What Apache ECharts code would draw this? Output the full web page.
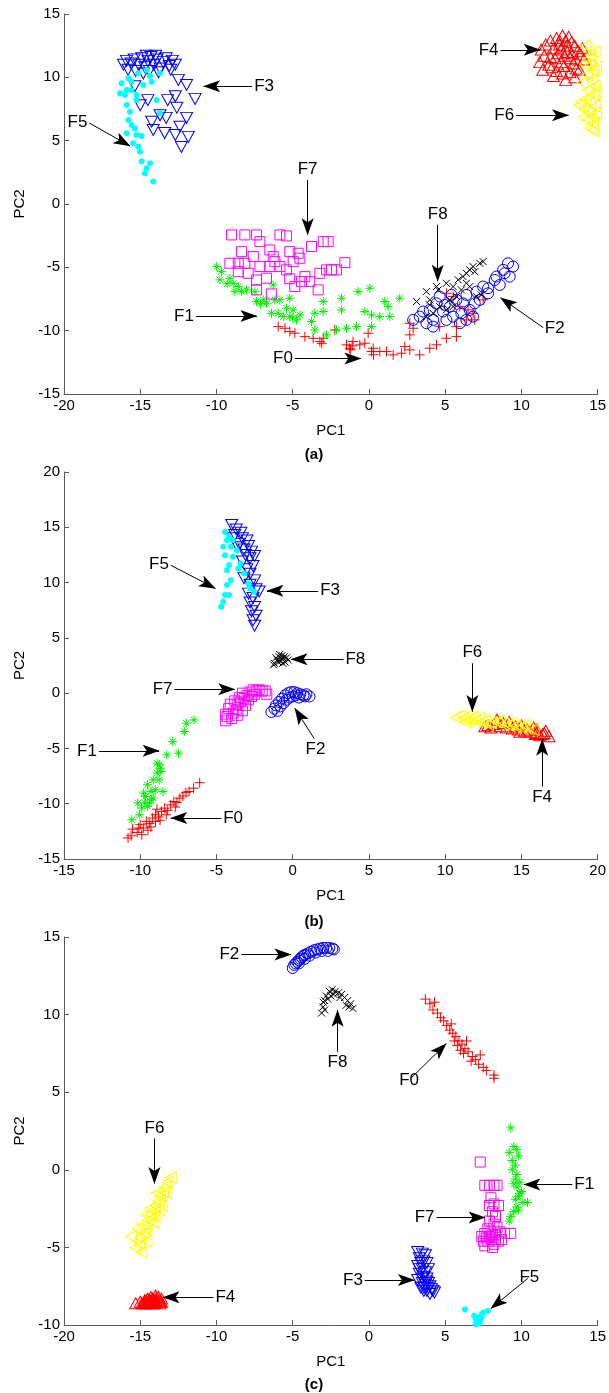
<!DOCTYPE html>
<html>
<head>
<meta charset="utf-8">
<script src="https://cdn.jsdelivr.net/npm/echarts@6/dist/echarts.min.js"></script>
<style>
html, body { margin: 0; padding: 0; background: #fff; }
#main { width: 609px; height: 1393px; }
</style>
</head>
<body>
<div id="main"></div>
<script>
// ---------- data: panel (a) ----------
const a_F0 = [[-5.95,-9.68],[-5.51,-9.81],[-5.19,-10.07],[-4.86,-10.2],[-4.2,-10.47],[-3.66,-10.6],[-3.22,-10.86],[-3.0,-10.6],[-2.24,-9.94],[-1.47,-11.12],[-1.04,-10.86],[-1.26,-11.39],[-0.6,-11.12],[-0.27,-10.99],[-0.05,-10.2],[0.17,-11.65],[0.71,-11.65],[1.15,-11.65],[1.59,-11.91],[2.13,-11.78],[2.35,-11.26],[2.68,-11.52],[2.68,-10.33],[2.9,-9.81],[3.33,-11.91],[3.99,-11.39],[4.43,-11.12],[5.08,-10.6],[5.74,-10.47],[6.39,-9.15],[6.94,-9.15],[7.49,-7.57],[6.5,-8.36],[5.52,-7.31],[5.96,-8.1],[5.08,-7.05],[4.64,-9.68],[2.68,-9.41],[5.74,-9.68],[6.83,-8.63],[0.28,-11.39],[-1.2,-11.5],[-1.1,-11.2],[-3.1,-11.0],[0.3,-11.9]];
const a_F1 = [[-9.99,-4.94],[-9.67,-5.34],[-9.78,-5.99],[-9.12,-5.86],[-8.9,-6.26],[-8.57,-6.52],[-8.79,-6.92],[-8.35,-6.92],[-8.03,-6.78],[-7.37,-7.7],[-6.94,-7.57],[-6.28,-6.39],[-6.17,-7.57],[-5.84,-7.57],[-5.19,-7.44],[-5.95,-8.63],[-5.62,-8.89],[-5.19,-8.89],[-4.75,-9.15],[-4.53,-8.76],[-3.77,-9.28],[-3.55,-9.94],[-2.78,-10.33],[-2.13,-9.94],[-1.47,-9.81],[-0.82,-9.68],[-0.71,-6.92],[0.06,-6.65],[-1.8,-7.44],[-3.0,-7.7],[-3.0,-8.49],[-3.55,-8.63],[-1.8,-8.36],[-0.27,-8.49],[0.17,-8.76],[0.71,-8.89],[1.04,-7.7],[1.26,-8.1],[2.02,-7.44],[1.37,-8.89],[0.17,-9.68],[-7.48,-6.92],[-6.72,-7.84],[-5.41,-8.23],[-4.97,-8.36],[-6.39,-8.63],[-9.3,-6.3],[-7.1,-7.9],[-5.0,-9.0]];
const a_F2 = [[2.9,-9.15],[3.33,-8.89],[3.77,-9.41],[4.21,-9.15],[3.99,-8.36],[4.43,-7.84],[4.86,-8.49],[5.08,-9.15],[5.3,-8.1],[5.74,-7.57],[5.52,-8.89],[6.06,-8.63],[6.17,-7.84],[6.39,-7.18],[6.61,-8.36],[6.94,-7.84],[7.05,-6.92],[7.27,-7.57],[7.49,-6.52],[7.81,-6.65],[8.25,-6.0],[8.58,-6.39],[8.9,-5.47],[9.23,-5.73],[9.45,-4.94],[9.12,-4.68],[8.8,-5.2],[8.36,-5.73],[7.81,-7.05],[6.83,-8.89],[5.96,-9.41],[4.21,-9.68],[3.55,-8.49],[4.64,-7.31],[5.41,-7.18],[6.39,-9.15],[4.97,-7.97]];
const a_F3 = [[-16.1,11.0],[-15.8,10.6],[-15.6,11.1],[-15.3,10.5],[-15.1,11.0],[-14.9,11.5],[-14.7,10.8],[-14.5,11.3],[-14.3,11.6],[-14.1,11.0],[-13.9,11.4],[-13.7,10.7],[-13.5,11.2],[-13.3,11.5],[-13.1,10.9],[-12.9,11.3],[-12.7,11.0],[-14.4,10.5],[-13.8,10.4],[-15.4,11.4],[-14.0,11.7],[-14.6,11.7],[-13.0,10.6],[-15.9,11.3],[-14.8,10.3],[-12.5,9.8],[-11.96,9.4],[-11.4,8.3],[-12.7,8.5],[-13.2,8.2],[-12.6,7.6],[-15.0,7.8],[-14.5,8.2],[-15.35,9.3],[-13.7,7.0],[-14.25,6.5],[-13.3,6.8],[-11.96,6.8],[-14.15,5.85],[-13.4,5.6],[-12.7,5.45],[-11.85,5.3],[-12.3,4.5],[-12.4,6.1]];
const a_F4 = [[11.3,12.2],[11.5,11.7],[11.2,11.2],[11.6,12.6],[11.9,12.9],[12.1,12.3],[12.3,13.1],[12.5,12.6],[12.7,13.3],[12.9,12.9],[13.1,13.2],[13.3,12.8],[13.5,12.5],[13.7,12.1],[13.9,11.8],[14.1,11.4],[12.2,11.5],[12.4,11.9],[12.6,11.2],[12.8,11.7],[13.0,12.0],[13.2,11.5],[13.4,11.1],[13.6,10.7],[12.0,10.8],[12.3,10.5],[12.7,10.3],[12.9,9.8],[13.2,10.4],[13.5,10.0],[11.8,11.0],[12.5,12.9],[13.0,12.5],[13.8,10.6],[11.4,10.6],[12.1,10.1],[14.0,12.3],[12.6,12.2],[13.3,11.9],[11.9,11.6],[12.8,10.9],[13.6,11.4]];
const a_F5 = [[-16.33,8.74],[-16.0,8.6],[-16.22,9.53],[-15.78,9.92],[-15.57,9.66],[-15.13,10.32],[-14.58,10.58],[-13.71,10.32],[-14.25,9.66],[-13.93,8.21],[-13.71,7.16],[-15.24,8.6],[-15.57,9.0],[-15.89,7.82],[-15.67,7.29],[-15.78,6.63],[-15.57,6.24],[-15.35,5.97],[-15.89,5.58],[-15.24,5.45],[-14.91,5.37],[-15.46,4.79],[-15.13,4.53],[-15.02,4.13],[-14.91,3.35],[-14.36,3.21],[-14.58,2.82],[-14.69,2.42],[-14.15,1.77],[-15.89,9.0],[-15.24,8.21],[-14.8,9.4],[-14.36,10.1]];
const a_F6 = [[14.2,12.5],[14.4,12.1],[14.6,11.6],[14.5,11.0],[14.7,10.5],[14.3,10.2],[14.6,9.8],[14.8,9.3],[14.4,9.0],[14.7,8.6],[14.2,8.3],[14.5,8.0],[14.8,7.7],[13.9,8.1],[14.1,7.5],[14.4,7.2],[14.6,6.9],[14.3,6.6],[14.7,6.3],[14.5,6.0],[14.7,5.8],[14.0,9.6],[14.9,10.8],[14.9,8.9],[13.8,7.8],[14.2,11.0],[14.8,12.0],[14.4,11.4],[14.1,6.9],[14.9,7.2]];
const a_F7 = [[-9.01,-2.44],[-8.14,-2.44],[-7.37,-2.44],[-7.15,-2.97],[-5.84,-2.44],[-5.41,-2.52],[-3.77,-3.36],[-3.0,-2.97],[-2.68,-2.97],[-8.35,-3.76],[-7.59,-4.15],[-6.5,-3.63],[-6.28,-4.15],[-5.19,-3.76],[-4.64,-3.89],[-4.53,-4.28],[-8.57,-4.68],[-8.14,-4.68],[-7.15,-4.94],[-6.5,-4.94],[-6.17,-4.55],[-5.84,-4.94],[-5.41,-5.2],[-4.97,-4.55],[-4.2,-5.73],[-4.42,-6.13],[-3.22,-5.47],[-2.78,-5.2],[-2.46,-5.2],[-2.13,-5.2],[-1.58,-4.63],[-3.33,-6.78],[-7.37,-6.0],[-6.72,-5.86],[-4.86,-6.52],[-3.88,-6.13],[-8.57,-5.34],[-7.92,-5.47],[-7.37,-6.78],[-9.12,-4.68],[-6.4,-7.1],[-5.2,-5.9]];
const a_F8 = [[3.12,-7.7],[3.77,-6.92],[3.99,-7.57],[4.43,-6.52],[4.54,-6.78],[5.08,-6.26],[5.52,-6.52],[5.85,-5.99],[6.17,-5.73],[6.39,-5.47],[6.61,-5.2],[6.83,-4.94],[6.94,-5.34],[7.27,-4.68],[7.49,-4.55],[6.39,-6.26],[6.06,-6.78],[5.74,-7.31],[5.3,-7.57],[4.64,-8.1],[4.21,-8.63],[3.77,-8.89],[5.08,-8.36],[5.52,-8.1],[6.61,-6.52],[7.05,-7.31],[3.99,-7.97],[7.38,-7.18]];
// label, tail x, tail y, tip x, tip y
const a_notes = [['F3',-7.66,9.29,-10.84,9.29],['F5',-18.35,6.4,-15.67,4.57],['F7',-4.02,1.9,-4.02,-2.42],['F8',4.51,-1.64,4.51,-6.09],['F4',8.63,12.17,11.23,12.17],['F6',9.65,7.01,13.09,7.01],['F1',-11.35,-8.84,-7.35,-8.84],['F0',-4.86,-12.2,-0.53,-12.2],['F2',11.43,-9.76,8.63,-7.4]];

// ---------- data: panel (b) ----------
const b_F0 = [[-10.8,-13.1],[-10.5,-12.3],[-10.2,-12.6],[-10.0,-11.9],[-9.8,-12.2],[-9.6,-11.6],[-9.4,-11.8],[-9.2,-11.3],[-9.0,-11.0],[-8.8,-11.2],[-8.6,-10.7],[-8.4,-10.4],[-8.2,-10.6],[-8.0,-10.1],[-7.8,-9.8],[-7.6,-9.9],[-7.4,-9.5],[-7.2,-9.3],[-7.0,-9.0],[-6.8,-8.9],[-6.5,-8.6],[-6.1,-8.1],[-9.9,-12.8],[-9.3,-12.1],[-8.7,-11.5],[-10.6,-12.9],[-8.9,-10.5],[-7.7,-10.3],[-10.1,-12.2],[-9.5,-12.4],[-9.0,-11.6],[-8.3,-11.0]];
const b_F1 = [[-6.47,-2.42],[-6.98,-2.72],[-7.11,-3.47],[-7.87,-4.38],[-7.49,-5.43],[-8.26,-5.58],[-8.76,-6.48],[-8.89,-7.23],[-9.15,-7.84],[-9.53,-8.29],[-8.51,-8.89],[-9.78,-9.04],[-9.15,-9.49],[-10.16,-9.94],[-9.53,-10.24],[-10.04,-11.0],[-10.55,-11.45],[-9.27,-9.64],[-8.76,-7.84],[-9.02,-8.74],[-9.66,-9.34],[-9.91,-10.39],[-9.4,-9.94],[-8.64,-7.08],[-8.89,-6.33],[-9.3,-8.9],[-9.7,-9.9],[-8.7,-6.8]];
const b_F2 = [[-1.4,-1.7],[-1.2,-1.4],[-1.1,-1.1],[-0.9,-0.8],[-0.7,-0.5],[-0.5,-0.2],[-0.3,0.0],[-0.1,0.1],[0.1,0.1],[0.3,0.0],[0.5,-0.1],[0.7,-0.2],[0.9,-0.1],[1.1,-0.3],[-0.4,-0.6],[-0.8,-1.2],[0.0,-0.3],[0.4,-0.4],[-1.0,-1.6],[-0.6,-0.9],[0.2,-0.2],[0.8,-0.3],[-0.2,-0.4]];
const b_F3 = [[-4.0,15.2],[-3.7,14.8],[-3.4,14.5],[-3.8,14.3],[-3.3,14.0],[-3.0,13.8],[-3.5,13.5],[-2.9,13.3],[-3.2,13.0],[-2.7,12.8],[-3.1,12.5],[-2.8,12.2],[-3.3,11.9],[-2.6,11.5],[-3.0,11.2],[-2.8,10.8],[-3.2,10.4],[-2.5,10.2],[-2.8,9.8],[-2.4,9.4],[-2.9,9.0],[-2.6,8.6],[-2.8,8.2],[-2.5,7.8],[-2.7,7.4],[-2.4,7.0],[-2.6,6.6],[-2.5,6.1],[-3.6,13.2],[-3.9,14.0],[-2.5,12.4],[-2.2,9.2]];
const b_F4 = [[12.8,-2.9],[13.2,-2.8],[13.6,-3.0],[14.0,-3.1],[14.4,-3.2],[14.8,-3.3],[15.2,-3.4],[15.6,-3.5],[16.0,-3.6],[16.4,-3.7],[16.8,-3.9],[13.4,-2.4],[14.2,-2.6],[15.0,-2.9],[15.8,-3.1],[16.6,-3.4],[13.0,-3.1],[14.6,-3.0],[15.4,-3.3],[16.2,-3.8],[12.6,-3.0],[13.8,-2.7],[15.9,-3.7],[16.5,-3.6],[14.9,-3.5],[16.0,-3.3]];
const b_F5 = [[-4.44,14.58],[-4.31,13.83],[-4.06,13.23],[-4.44,12.48],[-3.93,12.33],[-4.18,11.57],[-4.31,11.12],[-3.55,11.27],[-3.17,10.82],[-4.06,10.22],[-4.31,9.77],[-4.44,8.87],[-4.18,8.87],[-4.56,8.26],[-4.69,7.81],[-2.91,9.92],[-2.53,9.17],[-2.78,9.47],[-3.67,12.93],[-3.93,13.83],[-3.42,11.72],[-4.56,13.23],[-4.18,14.13]];
const b_F6 = [[10.7,-2.2],[11.0,-2.0],[11.2,-2.3],[11.4,-2.1],[11.6,-2.4],[11.8,-2.2],[12.0,-2.5],[12.2,-2.3],[12.4,-2.6],[12.6,-2.5],[13.0,-2.7],[13.4,-2.6],[13.8,-2.8],[14.2,-2.9],[14.6,-3.0],[15.0,-3.1],[15.4,-3.2],[15.8,-3.3],[13.6,-2.5],[14.4,-2.7],[12.8,-2.8],[11.3,-2.6],[15.2,-2.9]];
const b_F7 = [[-4.4,-2.5],[-4.3,-2.1],[-4.0,-2.3],[-3.9,-1.8],[-4.2,-1.4],[-3.7,-1.5],[-3.6,-1.0],[-3.4,-0.8],[-3.5,-0.4],[-3.2,-0.5],[-3.0,-0.2],[-3.3,0.0],[-2.8,0.1],[-2.6,0.3],[-2.4,0.2],[-2.2,0.3],[-2.0,0.2],[-1.8,0.2],[-2.9,-0.6],[-3.1,-1.1],[-3.8,-0.7],[-2.5,-0.1],[-4.1,-1.0],[-3.3,-1.6],[-1.7,-0.1],[-2.7,-0.3],[-3.6,-2.0],[-4.4,-1.9]];
const b_F8 = [[-1.2,2.7],[-1.0,3.0],[-0.9,3.3],[-0.8,2.9],[-0.7,3.4],[-0.6,3.1],[-0.5,2.8],[-0.4,3.2],[-0.3,3.0],[-1.1,3.2],[-0.85,3.5],[-0.65,2.7],[-0.95,2.8],[-0.55,3.3],[-0.75,3.15],[-1.25,2.55]];
const b_notes = [['F5',-8.0,11.57,-5.07,9.47],['F3',1.67,9.26,-1.69,9.26],['F8',3.33,3.06,-0.11,3.06],['F7',-7.75,0.35,-3.8,0.35],['F2',1.42,-4.13,0.14,-1.37],['F6',11.78,2.7,11.78,-1.67],['F4',16.36,-8.44,16.36,-4.17],['F1',-12.71,-5.22,-8.76,-5.22],['F0',-4.69,-11.3,-8.0,-11.3]];

// ---------- data: panel (c) ----------
const c_F0 = [[3.7,11.0],[4.0,10.7],[4.2,10.3],[4.5,10.1],[4.7,9.8],[4.9,9.6],[5.1,9.3],[5.3,9.0],[5.5,8.8],[5.7,8.6],[5.9,8.3],[6.1,8.1],[6.3,7.8],[6.5,7.6],[6.8,7.3],[7.0,7.1],[7.2,6.8],[7.5,6.6],[7.7,6.4],[8.2,6.1],[8.2,5.9],[5.4,9.4],[6.0,7.7],[6.4,8.3],[6.7,7.0],[7.3,7.4],[4.3,10.8],[5.8,8.0],[6.2,7.5],[5.6,8.3]];
const c_F1 = [[9.3,2.7],[9.5,1.5],[9.7,1.3],[9.2,1.1],[9.8,0.9],[9.4,0.6],[9.6,0.3],[9.4,0.0],[9.7,-0.3],[9.6,-0.6],[9.9,-0.8],[9.7,-1.1],[10.0,-1.4],[9.8,-1.7],[9.6,-1.9],[10.1,-2.1],[10.4,-2.1],[9.7,-2.4],[9.5,-2.7],[9.3,-3.0],[9.2,-3.3],[9.9,-1.5],[9.5,-0.9],[9.8,-2.6]];
const c_F2 = [[-5.0,13.0],[-4.9,13.2],[-4.8,13.3],[-4.7,13.4],[-4.6,13.5],[-4.5,13.6],[-4.4,13.7],[-4.3,13.8],[-4.2,13.85],[-4.0,13.95],[-3.8,14.05],[-3.6,14.15],[-3.4,14.2],[-3.2,14.25],[-3.0,14.3],[-2.8,14.3],[-2.6,14.3],[-2.4,14.25],[-2.3,14.2],[-4.6,13.3],[-4.2,13.6],[-3.9,13.8],[-3.5,14.0],[-3.1,14.1],[-2.7,14.1]];
const c_F3 = [[3.2,-5.3],[3.5,-5.4],[3.7,-5.5],[3.3,-5.7],[3.6,-5.9],[3.8,-6.0],[3.2,-6.2],[3.5,-6.4],[3.9,-6.4],[3.3,-6.7],[3.6,-6.9],[3.8,-7.0],[3.2,-7.1],[3.5,-7.3],[3.7,-7.4],[3.9,-7.6],[4.1,-7.7],[4.3,-7.9],[4.0,-8.0],[3.6,-7.8],[3.4,-6.0],[3.7,-6.6],[3.4,-7.6],[3.8,-7.2],[4.2,-7.8],[3.5,-7.0],[3.9,-7.3],[3.6,-7.6],[3.8,-7.8],[4.0,-7.5],[3.3,-6.4]];
const c_F4 = [[-15.3,-8.6],[-15.0,-8.5],[-14.8,-8.6],[-14.6,-8.4],[-14.4,-8.5],[-14.2,-8.3],[-14.0,-8.4],[-13.8,-8.2],[-13.6,-8.5],[-14.5,-8.6],[-14.1,-8.6],[-13.7,-8.6],[-14.3,-8.2],[-13.9,-8.5],[-14.7,-8.5],[-14.9,-8.6],[-13.6,-8.3],[-14.0,-8.1],[-14.6,-8.6],[-14.4,-8.35],[-14.2,-8.55],[-14.0,-8.55],[-13.8,-8.4],[-14.3,-8.45],[-14.1,-8.3],[-14.5,-8.3],[-13.9,-8.25],[-14.7,-8.4],[-14.2,-8.6],[-13.7,-8.45]];
const c_F5 = [[6.3,-9.0],[6.9,-9.4],[7.0,-9.6],[7.1,-9.8],[7.2,-9.9],[7.3,-9.5],[7.4,-9.3],[7.5,-9.2],[7.8,-9.1],[7.2,-9.7],[7.0,-9.95],[7.3,-9.7],[7.1,-9.5],[7.25,-9.85],[7.4,-9.5]];
const c_F6 = [[-13.0,-0.5],[-13.2,-0.8],[-13.4,-1.1],[-13.5,-1.4],[-13.7,-1.7],[-13.8,-2.0],[-14.0,-2.3],[-14.1,-2.6],[-14.3,-2.9],[-14.4,-3.2],[-14.5,-3.5],[-14.7,-3.8],[-14.8,-4.1],[-15.0,-4.4],[-15.1,-4.7],[-15.3,-5.0],[-15.6,-4.3],[-14.9,-5.3],[-14.2,-3.4],[-13.6,-2.3],[-14.6,-2.9],[-13.9,-1.5],[-15.2,-3.8],[-14.0,-3.0],[-14.6,-4.6],[-13.3,-1.5],[-14.9,-3.5],[-14.4,-2.5],[-15.0,-4.9],[-13.8,-2.6]];
const c_F7 = [[7.3,0.5],[7.6,-1.0],[7.9,-1.0],[8.2,-1.0],[8.4,-1.0],[8.0,-1.8],[7.9,-2.3],[8.2,-2.2],[8.5,-2.3],[8.1,-2.7],[8.3,-3.0],[7.9,-3.3],[8.2,-3.5],[7.8,-3.8],[8.4,-3.7],[7.4,-4.3],[7.6,-4.1],[8.0,-4.5],[8.3,-4.2],[8.6,-4.0],[8.9,-4.1],[9.3,-4.1],[7.6,-4.9],[8.1,-5.0],[7.8,-4.6],[8.5,-4.6],[7.5,-4.6],[8.7,-4.5],[8.0,-4.0],[8.2,-4.8],[7.9,-4.3],[8.3,-4.5],[7.7,-4.4],[8.1,-4.2]];
const c_F8 = [[-3.1,10.1],[-3.0,10.5],[-2.9,10.9],[-2.8,11.2],[-2.6,11.5],[-2.4,11.6],[-2.2,11.5],[-2.0,11.4],[-1.8,11.3],[-1.6,11.1],[-1.4,10.9],[-1.2,10.7],[-1.05,10.4],[-2.9,10.3],[-2.7,11.0],[-2.3,11.3],[-1.9,11.1],[-1.5,10.6],[-3.0,10.8],[-2.5,11.2],[-1.3,10.5]];
const c_notes = [['F2',-8.37,13.88,-5.11,13.88],['F8',-2.06,7.6,-2.06,10.28],['F0',2.73,5.88,5.07,8.13],['F6',-14.07,2.02,-14.07,-0.88],['F1',13.34,-0.94,10.16,-0.94],['F7',4.43,-3.07,7.62,-3.07],['F3',-0.27,-7.1,2.98,-7.1],['F4',-10.2,-8.22,-13.51,-8.22],['F5',10.42,-7.0,8.0,-8.93]];

// axis ranges
const xRanges = [[-20, 15], [-15, 20], [-20, 15]];
const yRanges = [[-15, 15], [-15, 20], [-10, 15]];
const panelTitles = ['(a)', '(b)', '(c)'];

// marker style of each class (matlab-like)
const markers = {
    F0: { symbol: 'path://M5,0L5,10M0,5L10,5', size: 10, color: '#ff0000' },
    F1: { symbol: 'path://M5,0L5,10M0,5L10,5M1.5,1.5L8.5,8.5M8.5,1.5L1.5,8.5', size: 9, color: '#00ee00' },
    F2: { symbol: 'circle', size: 11, color: '#0000ff' },
    F3: { symbol: 'path://M0,0L10,0L5,9Z', size: [12, 11], color: '#0000ff' },
    F4: { symbol: 'triangle', size: [12, 11], color: '#ff0000' },
    F5: { symbol: 'circle', size: 6, color: '#00ffff', fill: true },
    F6: { symbol: 'path://M0,5L9,0L9,10Z', size: [11, 12], color: '#ffff00' },
    F7: { symbol: 'rect', size: 10, color: '#ff00ff' },
    F8: { symbol: 'path://M0,0L10,10M10,0L0,10', size: 7, color: '#000000' }
};

// narrow concave arrow head; the two empty moves widen the box so the head stays slim
const arrowHead = 'path://M8.5,0L14.5,17L8.5,13L2.5,17Z M0,0L0,0 M17,0L17,0';

const panels = [
    { F0: a_F0, F1: a_F1, F2: a_F2, F3: a_F3, F4: a_F4, F5: a_F5, F6: a_F6, F7: a_F7, F8: a_F8, notes: a_notes },
    { F0: b_F0, F1: b_F1, F2: b_F2, F3: b_F3, F4: b_F4, F5: b_F5, F6: b_F6, F7: b_F7, F8: b_F8, notes: b_notes },
    { F0: c_F0, F1: c_F1, F2: c_F2, F3: c_F3, F4: c_F4, F5: c_F5, F6: c_F6, F7: c_F7, F8: c_F8, notes: c_notes }
];

const gridTops = [14, 472, 937];
const gridHeights = [380, 387, 388];
const titleTops = [442, 909, 1372];

const axisColor = '#5a5a5a';
const font = 'Liberation Sans, Arial, Helvetica, sans-serif';

let grids = [], xAxes = [], yAxes = [], series = [], titles = [];

panels.forEach(function (p, i) {
    grids.push({ left: 64, width: 534, top: gridTops[i], height: gridHeights[i] });
    xAxes.push({
        type: 'value', gridIndex: i, min: xRanges[i][0], max: xRanges[i][1], interval: 5,
        name: 'PC1', nameLocation: 'middle', nameGap: 29,
        nameTextStyle: { color: '#000', fontSize: 15, fontFamily: font },
        axisLine: { show: true, onZero: false, lineStyle: { color: axisColor, width: 1 } },
        axisTick: { show: true, inside: true, length: 5, lineStyle: { color: axisColor } },
        axisLabel: { color: '#000', fontSize: 15, fontFamily: font, margin: 4, showMinLabel: true, showMaxLabel: true },
        splitLine: { show: false }
    });
    yAxes.push({
        type: 'value', gridIndex: i, min: yRanges[i][0], max: yRanges[i][1], interval: 5,
        name: 'PC2', nameLocation: 'middle', nameGap: 32,
        nameTextStyle: { color: '#000', fontSize: 15, fontFamily: font },
        axisLine: { show: true, onZero: false, lineStyle: { color: axisColor, width: 1 } },
        axisTick: { show: true, inside: true, length: 5, lineStyle: { color: axisColor } },
        axisLabel: { color: '#000', fontSize: 15, fontFamily: font, margin: 4, showMinLabel: true, showMaxLabel: true },
        splitLine: { show: false }
    });
    titles.push({
        text: panelTitles[i], left: 309, top: titleTops[i], textAlign: 'center',
        textStyle: { color: '#000', fontSize: 15, fontWeight: 'bold', fontFamily: font }
    });

    ['F0', 'F1', 'F2', 'F3', 'F4', 'F5', 'F6', 'F7', 'F8'].forEach(function (k) {
        let m = markers[k];
        series.push({
            name: k, type: 'scatter', xAxisIndex: i, yAxisIndex: i,
            data: p[k], symbol: m.symbol, symbolSize: m.size,
            itemStyle: m.fill
                ? { color: m.color, borderWidth: 0, opacity: 1 }
                : { color: 'rgba(0,0,0,0)', borderColor: m.color, borderWidth: 1, opacity: 1 },
            emphasis: { disabled: true },
            animation: false
        });
    });

    // arrows + labels
    series.push({
        type: 'scatter', xAxisIndex: i, yAxisIndex: i, data: [],
        silent: true, animation: false,
        markLine: {
            silent: true, animation: false,
            symbol: ['none', arrowHead], symbolSize: 17,
            symbolOffset: [0, [0, 8]],
            lineStyle: { color: '#000', width: 1, type: 'solid' },
            itemStyle: { color: '#000' },
            label: {
                show: true, position: 'start', distance: 2, formatter: '{b}',
                color: '#000', fontSize: 17, fontFamily: font
            },
            emphasis: { disabled: true },
            data: p.notes.map(function (n) {
                return [{ name: n[0], coord: [n[1], n[2]] }, { coord: [n[3], n[4]] }];
            })
        }
    });
});

let option = {
    backgroundColor: '#fff',
    animation: false,
    title: titles,
    grid: grids,
    xAxis: xAxes,
    yAxis: yAxes,
    series: series
};

let myChart = echarts.init(document.getElementById('main'));
myChart.setOption(option);

window.addEventListener('resize', function () {
    myChart.resize();
}, false);
</script>
</body>
</html>
